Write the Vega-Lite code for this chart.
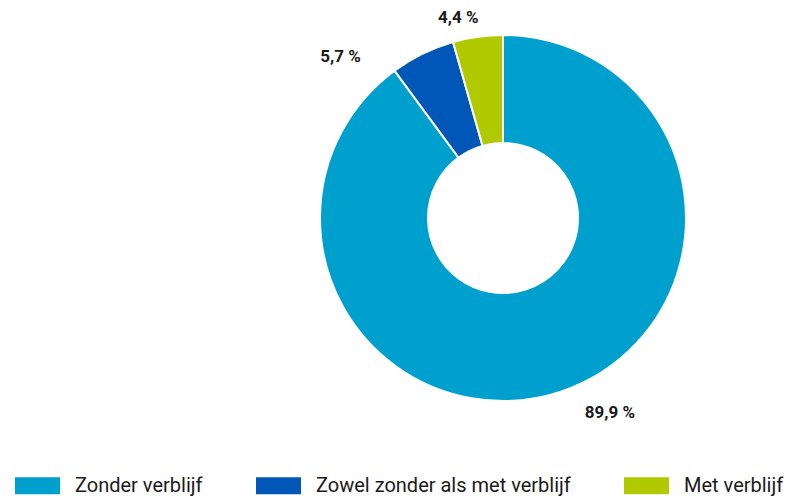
{
  "$schema": "https://vega.github.io/schema/vega-lite/v6.json",
  "width": 570,
  "height": 436,
  "autosize": {"type": "none"},
  "padding": {"left": 218, "top": 0, "right": 0, "bottom": 62},
  "background": "white",
  "config": {"view": {"stroke": null}},
  "data": {
    "values": [
      {"categorie": "Zonder verblijf", "aandeel": 89.9, "label": "89,9 %", "volgorde": 1},
      {"categorie": "Zowel zonder als met verblijf", "aandeel": 5.7, "label": "5,7 %", "volgorde": 2},
      {"categorie": "Met verblijf", "aandeel": 4.4, "label": "4,4 %", "volgorde": 3}
    ]
  },
  "encoding": {
    "theta": {"field": "aandeel", "type": "quantitative", "stack": true},
    "order": {"field": "volgorde", "type": "quantitative"}
  },
  "layer": [
    {
      "mark": {"type": "arc", "outerRadius": 183, "innerRadius": 75, "stroke": "white", "strokeWidth": 2},
      "encoding": {
        "color": {
          "field": "categorie",
          "type": "nominal",
          "scale": {
            "domain": ["Zonder verblijf", "Zowel zonder als met verblijf", "Met verblijf"],
            "range": ["#00A0CE", "#0057B7", "#B1CA00"]
          },
          "legend": {
            "title": null,
            "orient": "none",
            "legendX": -203,
            "legendY": 463,
            "direction": "horizontal",
            "symbolType": "M-1,-0.38L1,-0.38L1,0.38L-1,0.38Z",
            "symbolSize": 2025,
            "symbolStrokeWidth": 0,
            "symbolOpacity": 1,
            "labelFont": "Roboto",
            "labelFontSize": 20,
            "labelLimit": 0,
            "labelColor": "#1a1a1a",
            "labelOffset": 15,
            "columnPadding": 53
          }
        }
      }
    },
    {
      "mark": {"type": "text", "radius": 208, "dx": 42, "dy": -3, "font": "Roboto", "fontWeight": "bold", "fontSize": 17, "color": "#1a1a1a"},
      "encoding": {"text": {"condition": {"test": "datum.volgorde == 1", "field": "label", "type": "nominal"}, "value": ""}}
    },
    {
      "mark": {"type": "text", "radius": 208, "dx": -71, "dy": 26, "font": "Roboto", "fontWeight": "bold", "fontSize": 17, "color": "#1a1a1a"},
      "encoding": {"text": {"condition": {"test": "datum.volgorde == 2", "field": "label", "type": "nominal"}, "value": ""}}
    },
    {
      "mark": {"type": "text", "radius": 208, "dx": -16, "dy": 6, "font": "Roboto", "fontWeight": "bold", "fontSize": 17, "color": "#1a1a1a"},
      "encoding": {"text": {"condition": {"test": "datum.volgorde == 3", "field": "label", "type": "nominal"}, "value": ""}}
    }
  ]
}
